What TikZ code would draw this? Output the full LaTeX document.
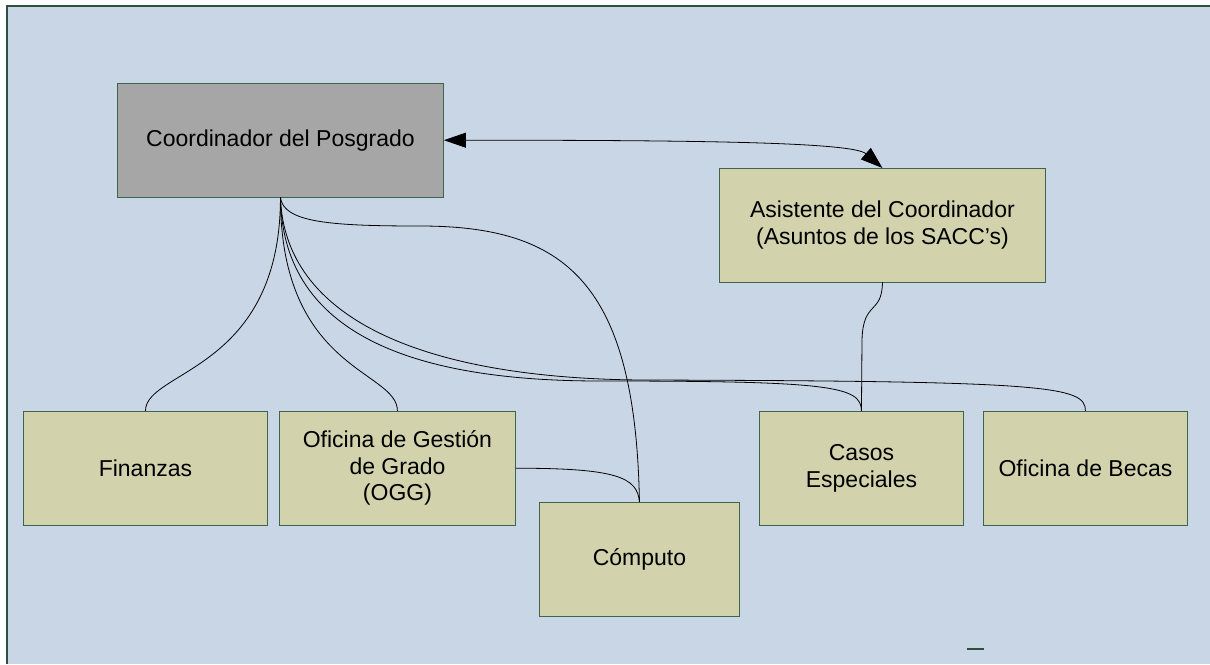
\documentclass[tikz,border=0pt]{standalone}
\usepackage{fontspec}
\setmainfont{Liberation Sans}
\usetikzlibrary{arrows.meta}
\definecolor{bgblue}{RGB}{201,214,229}
\definecolor{framegreen}{RGB}{47,79,63}
\definecolor{boxgreen}{RGB}{62,100,76}
\definecolor{unitfill}{RGB}{210,211,173}
\definecolor{headfill}{RGB}{166,166,166}

\begin{document}
\begin{tikzpicture}[x=1pt,y=-1pt,
  unitbox/.style={draw=boxgreen, fill=unitfill, line width=0.9pt, anchor=north west,
    inner sep=0pt, minimum height=113.5pt, align=center, font=\fontsize{23}{26.5}\selectfont},
  headbox/.style={unitbox, fill=headfill},
  link/.style={line width=0.8pt, black}]
\useasboundingbox (0,0) rectangle (1210,664);
% page background
\fill[bgblue] (7,6) rectangle (1210,664);
\draw[framegreen, line width=1.5pt] (7,664) -- (7,6) -- (1210,6);

% boxes
\node[headbox, minimum width=326pt] (coord) at (117,83) {Coordinador del Posgrado};
\node[unitbox, minimum width=326pt] (asist) at (719,168) {Asistente del Coordinador\\(Asuntos de los SACC’s)};
\node[unitbox, minimum width=244pt] (fin) at (23,411) {Finanzas};
\node[unitbox, minimum width=236pt] (ogg) at (279,411) {Oficina de Gestión\\de Grado\\(OGG)};
\node[unitbox, minimum width=200pt] (comp) at (539,502) {Cómputo};
\node[unitbox, minimum width=204pt] (casos) at (759,411) {Casos\\Especiales};
\node[unitbox, minimum width=204pt] (becas) at (983,411) {Oficina de Becas};

% connectors
\draw[link, {Triangle[length=22pt,width=15pt]}-{Triangle[length=22pt,width=15pt]}]
  (coord.east) .. controls +(250,0) and +(-30,-26) .. (asist.north);
\draw[link] (coord.south) .. controls +(0,174) and +(0,-41) .. (fin.north);
\draw[link] (coord.south) .. controls +(0,174) and +(0,-41) .. (ogg.north);
\draw[link] (coord.south) .. controls +(3,25) and (330,226) .. (420,226)
  .. controls (565,226) and +(-4,-220) .. (comp.north);
\draw[link] (coord.south) .. controls +(2,130) and (400,381) .. (600,381)
  .. controls (830,381) and +(0,-25) .. (casos.north);
\draw[link] (coord.south) .. controls +(4,120) and (420,378) .. (640,380)
  .. controls (1050,381) and +(0,-25) .. (becas.north);
\draw[link] (ogg.east) .. controls +(100,0) and +(-2,-25) .. (comp.north);
\draw[link] (asist.south) .. controls (882,315) and (863,300) .. (862,340) -- (casos.north);

\draw[framegreen, line width=1.5pt] (967,649) -- (984,649);
\end{tikzpicture}
\end{document}
